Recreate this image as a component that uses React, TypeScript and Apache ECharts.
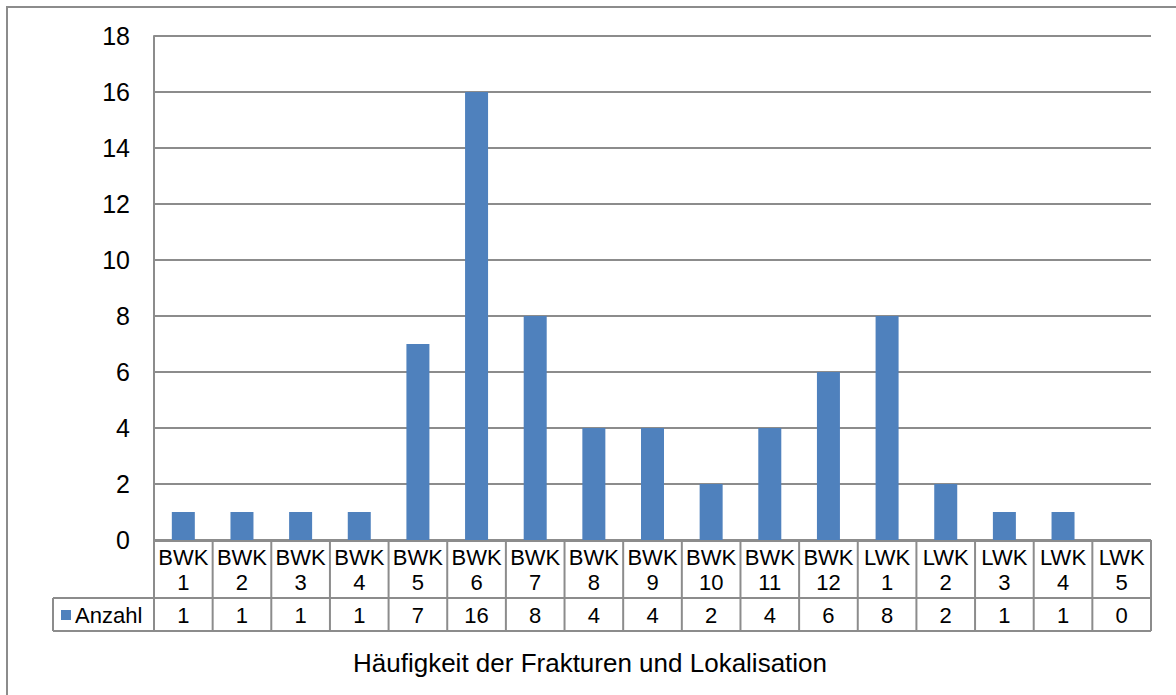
import React, { useEffect, useRef } from "react";
import * as echarts from "echarts";

const categories = [
  "BWK 1", "BWK 2", "BWK 3", "BWK 4", "BWK 5", "BWK 6", "BWK 7", "BWK 8", "BWK 9",
  "BWK 10", "BWK 11", "BWK 12", "LWK 1", "LWK 2", "LWK 3", "LWK 4", "LWK 5",
];
const anzahl = [1, 1, 1, 1, 7, 16, 8, 4, 4, 2, 4, 6, 8, 2, 1, 1, 0];
const seriesName = "Anzahl";
const xTitle = "Häufigkeit der Frakturen und Lokalisation";
const yMin = 0;
const yMax = 18;
const yStep = 2;

const W = 1176;
const H = 695;
const PLOT_L = 154;
const PLOT_R = 1151;
const PLOT_T = 36;
const PLOT_B = 540;
const ROW1_B = 598;
const ROW2_B = 631;
const LEGEND_L = 53;
const FONT = "'Liberation Sans', Arial, sans-serif";
const LINE = "#8c8c8c";
const BAR = "#4F81BD";

export default function App() {
  const ref = useRef<HTMLDivElement>(null);
  useEffect(() => {
    document.body.style.margin = "0";
    const chart = echarts.init(ref.current!, null, { renderer: "svg" });
    const n = categories.length;
    const cw = (PLOT_R - PLOT_L) / n;
    const g: any[] = [];
    const ls = { stroke: LINE, lineWidth: 2 };
    // outer frame
    g.push({ type: "rect", shape: { x: 7, y: 7, width: 1200, height: 800 }, style: { fill: "none", stroke: LINE, lineWidth: 2 }, silent: true });
    // horizontal table lines
    g.push({ type: "line", shape: { x1: PLOT_L, y1: PLOT_B + 1, x2: PLOT_R, y2: PLOT_B + 1 }, style: ls });
    g.push({ type: "line", shape: { x1: LEGEND_L, y1: ROW1_B, x2: PLOT_R, y2: ROW1_B }, style: ls });
    g.push({ type: "line", shape: { x1: LEGEND_L, y1: ROW2_B, x2: PLOT_R, y2: ROW2_B }, style: ls });
    g.push({ type: "line", shape: { x1: LEGEND_L, y1: ROW1_B, x2: LEGEND_L, y2: ROW2_B }, style: ls });
    for (let i = 0; i <= n; i++) {
      const x = PLOT_L + i * cw;
      g.push({ type: "line", shape: { x1: x, y1: PLOT_B, x2: x, y2: ROW2_B }, style: ls });
    }
    categories.forEach((c, i) => {
      const cx = PLOT_L + (i + 0.5) * cw;
      g.push({
        type: "text",
        x: cx,
        y: (PLOT_B + ROW1_B) / 2 + 1,
        style: { text: c.replace(" ", "\n"), fill: "#000", font: `22px ${FONT}`, align: "center", verticalAlign: "middle", lineHeight: 25 },
      });
      g.push({
        type: "text",
        x: cx,
        y: (ROW1_B + ROW2_B) / 2 + 1,
        style: { text: String(anzahl[i]), fill: "#000", font: `22px ${FONT}`, align: "center", verticalAlign: "middle" },
      });
    });
    // legend key
    g.push({ type: "rect", shape: { x: 61, y: 610, width: 10, height: 10 }, style: { fill: BAR } });
    g.push({
      type: "text",
      x: 75,
      y: (ROW1_B + ROW2_B) / 2 + 1,
      style: { text: seriesName, fill: "#000", font: `22px ${FONT}`, align: "left", verticalAlign: "middle" },
    });
    // axis title
    g.push({
      type: "text",
      x: 590,
      y: 663,
      style: { text: xTitle, fill: "#000", font: `26px ${FONT}`, align: "center", verticalAlign: "middle" },
    });

    chart.setOption({
      animation: false,
      backgroundColor: "#fff",
      grid: { left: PLOT_L, right: W - PLOT_R, top: PLOT_T, bottom: H - PLOT_B },
      xAxis: {
        type: "category",
        data: categories,
        axisLine: { show: false },
        axisTick: { show: false },
        axisLabel: { show: false },
      },
      yAxis: {
        type: "value",
        min: yMin,
        max: yMax,
        interval: yStep,
        axisLine: { show: true, lineStyle: { color: LINE, width: 2 } },
        axisTick: { show: false },
        axisLabel: { fontFamily: FONT, fontSize: 25, color: "#000", margin: 24 },
        splitLine: { lineStyle: { color: LINE, width: 2 } },
      },
      series: [
        {
          name: seriesName,
          type: "bar",
          data: anzahl,
          barWidth: 23,
          itemStyle: { color: BAR },
        },
      ],
      graphic: g,
    });
    return () => chart.dispose();
  }, []);
  return <div ref={ref} style={{ width: W, height: H }} />;
}
